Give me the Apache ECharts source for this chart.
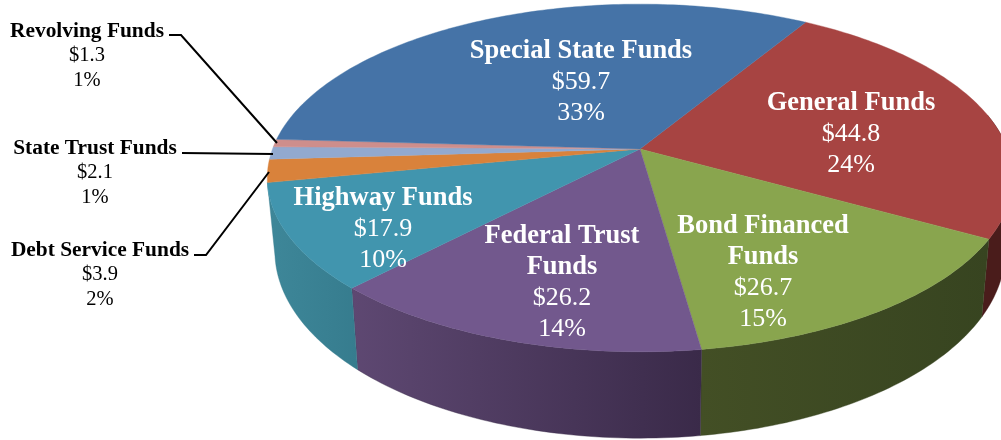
<!DOCTYPE html>
<html>
<head>
<meta charset="utf-8">
<style>html,body{margin:0;padding:0;background:#fff}#c{width:1001px;height:440px}</style>
<script src="https://cdn.jsdelivr.net/npm/echarts@6/dist/echarts.min.js"></script>
</head>
<body>
<div id="c"></div>
<script>
// Data, clockwise from the Special/General boundary
var fundNames = ['General Funds','Bond Financed\nFunds','Federal Trust\nFunds','Highway Funds','Debt Service Funds','State Trust Funds','Revolving Funds','Special State Funds'];
var fundValues = [44.8,26.7,26.2,17.9,3.9,2.1,1.3,59.7];
var fundValueLabels = ['$44.8','$26.7','$26.2','$17.9','$3.9','$2.1','$1.3','$59.7'];
var fundPercents = ['24%','15%','14%','10%','2%','1%','1%','33%'];

// Styles
var topColors = ['#a74442','#89a54e','#72588d','#4195ae','#d9823b','#92a9cf','#ce8e8c','#4573a7'];
var wallColors = [['#4a1c1b','#4a1c1b'],['#434f25','#374420'],['#5e4872','#3a2a49'],['#3e8799','#367c8e'],null,null,null,null];

// Layout: centre x, centre y, bold size, regular size, line height
var START_DEG = -59, WALL_FROM_DEG = -12, K = 0.1667;
var TOP_PLANE = {cx:640, cy:149, a:367.5, b:169};
var BOTTOM_PLANE = {cx:640, cy:220, a:360, b:181.8};
var labelPos = [[851,134,26.5,26,31],[763,273,26.5,26,31],[562,283,26.5,26,31],[383,229,26.5,26,31],[100,275,21.4,20.5,25],[95,173,21.4,20.5,25],[87,56,21.4,20.5,25],[581,82,26.5,26,31]];
var leaders = [
  [[169,35],[181,35],[277,143]],
  [[182,153],[273,154]],
  [[194,255],[206,255],[269,172]]
];

var total = fundValues.reduce(function(s,v){return s+v;},0);
function sliceRange(i){
  var from = START_DEG;
  for (var j=0;j<i;j++) from += fundValues[j]/total*360;
  return [from, from + fundValues[i]/total*360];
}
function project(deg, p){
  var t = deg*Math.PI/180, X = Math.cos(t), Y = Math.sin(t), w = 1/(1-K*Y);
  return [p.cx + p.a*X*w, p.cy + p.b*Y*w];
}
function arc(from, to, p){
  var pts = [], n = Math.max(2, Math.ceil(Math.abs(to-from)));
  for (var i=0;i<=n;i++) pts.push(project(from+(to-from)*i/n, p));
  return pts;
}
var sliceData = fundValues.map(function(v,i){return {name:fundNames[i].replace('\n',' '), value:v};});

var option = {
  animation:false,
  backgroundColor:'#ffffff',
  series:[
    {
      type:'custom', coordinateSystem:'none', silent:true, z:1, data:sliceData,
      renderItem:function(params){
        var i = params.dataIndex, c = wallColors[i];
        if (!c) return {type:'group',children:[]};
        var r = sliceRange(i), from = Math.max(r[0], WALL_FROM_DEG), to = r[1];
        var pts = arc(from,to,TOP_PLANE).concat(arc(to,from,BOTTOM_PLANE));
        return {type:'polygon', shape:{points:pts}, style:{
          fill:{type:'linear',x:0,y:0,x2:1,y2:0,colorStops:[{offset:0,color:c[0]},{offset:1,color:c[1]}]},
          stroke:c[1], lineWidth:0.4
        }};
      }
    },
    {
      type:'custom', coordinateSystem:'none', silent:true, z:2, data:sliceData,
      renderItem:function(params){
        var i = params.dataIndex, r = sliceRange(i);
        var pts = [[TOP_PLANE.cx,TOP_PLANE.cy]].concat(arc(r[0],r[1],TOP_PLANE));
        return {type:'polygon', shape:{points:pts}, style:{fill:topColors[i], stroke:topColors[i], lineWidth:0.4}};
      }
    },
    {
      type:'custom', coordinateSystem:'none', silent:true, z:3, data:leaders.map(function(l,i){return i;}),
      renderItem:function(params){
        return {type:'polyline', shape:{points:leaders[params.dataIndex]}, style:{fill:null, stroke:'#000', lineWidth:2}};
      }
    },
    {
      type:'custom', coordinateSystem:'none', silent:true, z:4, data:sliceData,
      renderItem:function(params){
        var i = params.dataIndex, lp = labelPos[i], col = i>=4 && i<=6 ? '#000000' : '#ffffff';
        var names = fundNames[i].split('\n').map(function(s){return '{b|'+s+'}';}).join('\n');
        return {type:'text', style:{
          x:lp[0], y:lp[1], align:'center', verticalAlign:'middle',
          text:names+'\n{v|'+fundValueLabels[i]+'}\n{v|'+fundPercents[i]+'}',
          fontFamily:'Liberation Serif', fontSize:lp[3], fill:col,
          rich:{
            b:{fontFamily:'Liberation Serif', fontWeight:'bold', fontSize:lp[2], lineHeight:lp[4], fill:col, align:'center'},
            v:{fontFamily:'Liberation Serif', fontSize:lp[3], lineHeight:lp[4], fill:col, align:'center'}
          }
        }};
      }
    }
  ]
};
var chart = echarts.init(document.getElementById('c'), null, {renderer:'canvas', width:1001, height:440});
chart.setOption(option);
</script>
</body>
</html>
